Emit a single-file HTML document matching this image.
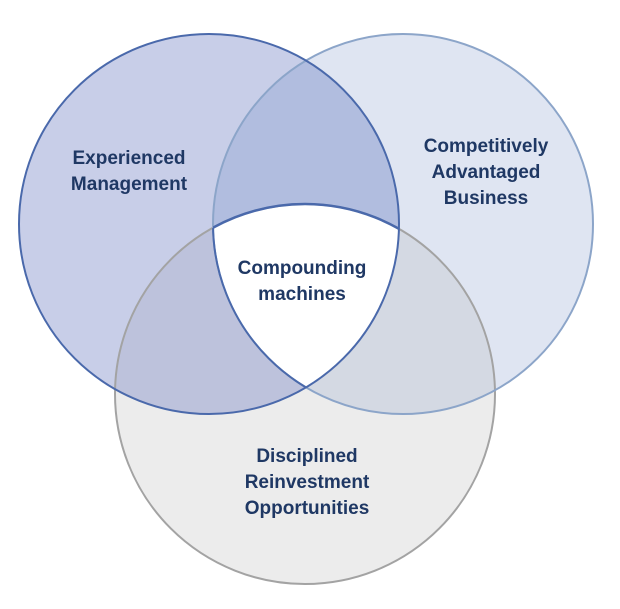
<!DOCTYPE html>
<html><head><style>
body{margin:0;background:#fff;width:620px;height:604px;overflow:hidden}
text{font-family:"Liberation Sans",Arial,sans-serif;font-weight:bold;font-size:19px;fill:#1f3864}
</style></head><body>
<svg width="620" height="604" viewBox="0 0 620 604">
<defs>
<clipPath id="L"><circle cx="209" cy="224" r="190"/></clipPath>
<clipPath id="R"><circle cx="403" cy="224" r="190"/></clipPath>
<clipPath id="B"><circle cx="305" cy="394" r="190"/></clipPath>
</defs>
<circle cx="209" cy="224" r="190" fill="#c8cee8"/>
<circle cx="403" cy="224" r="190" fill="#dfe5f2"/>
<circle cx="305" cy="394" r="190" fill="#ececec"/>
<g clip-path="url(#L)"><circle cx="403" cy="224" r="190" fill="#b1bddf"/></g>
<g clip-path="url(#L)"><circle cx="305" cy="394" r="190" fill="#bdc2dc"/></g>
<g clip-path="url(#R)"><circle cx="305" cy="394" r="190" fill="#d4d9e3"/></g>
<g clip-path="url(#L)"><g clip-path="url(#R)"><circle cx="305" cy="394" r="190" fill="#fff"/></g></g>
<circle cx="305" cy="394" r="190" fill="none" stroke="#a3a3a3" stroke-width="2"/>
<circle cx="403" cy="224" r="190" fill="none" stroke="#8ca5c9" stroke-width="2"/>
<circle cx="209" cy="224" r="190" fill="none" stroke="#4a69ab" stroke-width="2"/>
<g clip-path="url(#L)"><g clip-path="url(#R)"><circle cx="305" cy="394" r="190" fill="none" stroke="#4a69ab" stroke-width="2.5"/></g></g>
<g clip-path="url(#B)"><circle cx="403" cy="224" r="190" fill="none" stroke="#4a69ab" stroke-width="2" clip-path="url(#L)"/></g>
<text x="129" y="164" text-anchor="middle">Experienced</text>
<text x="129" y="190" text-anchor="middle">Management</text>
<text x="486" y="152" text-anchor="middle">Competitively</text>
<text x="486" y="178" text-anchor="middle">Advantaged</text>
<text x="486" y="204" text-anchor="middle">Business</text>
<text x="302" y="274" text-anchor="middle">Compounding</text>
<text x="302" y="300" text-anchor="middle">machines</text>
<text x="307" y="462" text-anchor="middle">Disciplined</text>
<text x="307" y="488" text-anchor="middle">Reinvestment</text>
<text x="307" y="514" text-anchor="middle">Opportunities</text>
</svg>
</body></html>
